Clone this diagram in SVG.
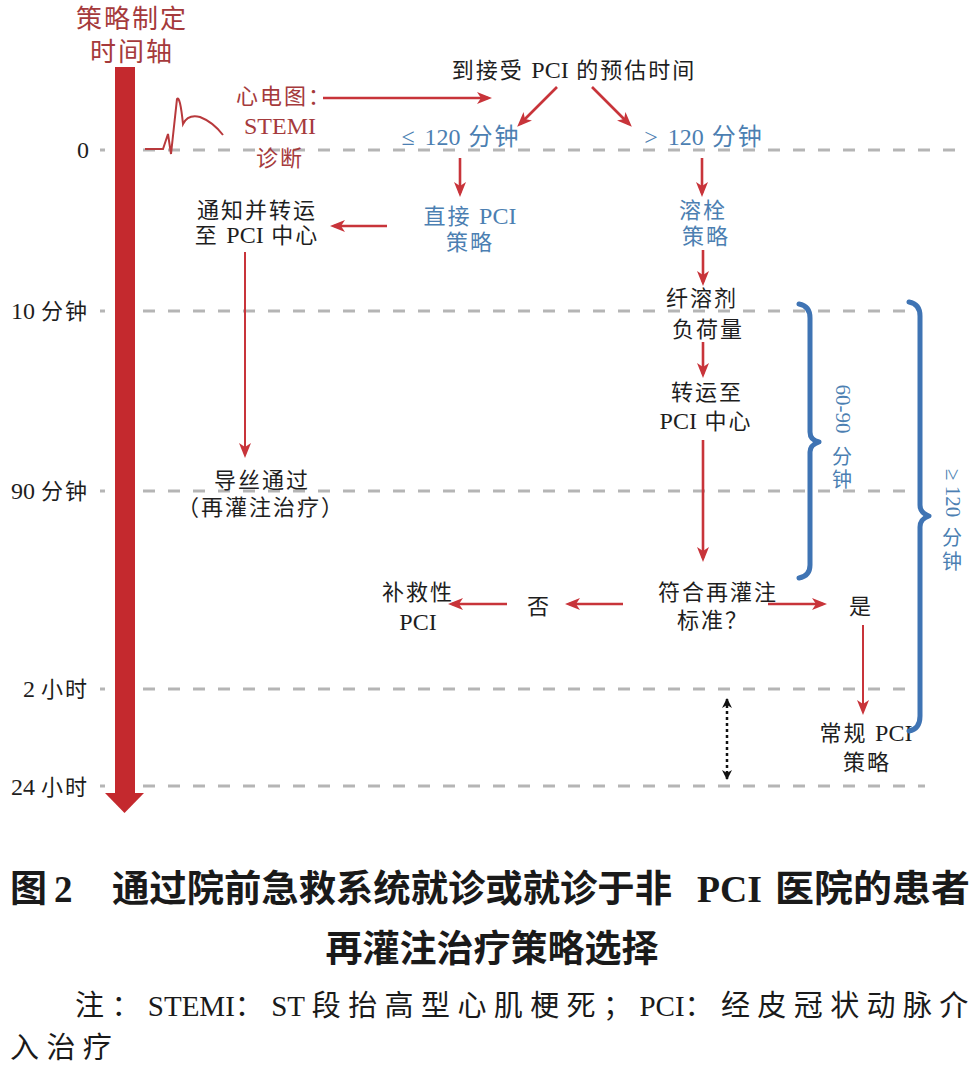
<svg xmlns="http://www.w3.org/2000/svg" width="976" height="1068" viewBox="0 0 976 1068">
<style>
text{font-family:"Liberation Serif","Noto Sans CJK SC",serif;}
.t{font-size:22px;fill:#1e1e1e;letter-spacing:2px;}
.r{font-size:22px;fill:#a53a3c;letter-spacing:2px;}
.b{font-size:22px;fill:#4c7fb2;letter-spacing:2px;}
.l{letter-spacing:0;}
.L{letter-spacing:0;font-size:24px;}
.m{text-anchor:middle;}
.e{text-anchor:end;}
.dash{stroke:#b5b5b5;stroke-width:3;stroke-dasharray:12 13;stroke-dashoffset:7;fill:none;}
.arr{stroke:#c8343a;stroke-width:2.6;fill:none;marker-end:url(#ah);}
.thin{stroke:#c8343a;stroke-width:2;fill:none;marker-end:url(#ah);}
.brace{stroke:#3f74b4;stroke-width:5;fill:none;stroke-linecap:round;stroke-linejoin:round;}
.cap{font-family:"Noto Sans CJK SC","Liberation Serif",sans-serif;font-weight:bold;font-size:37px;fill:#1a1a1a;}
.capl{font-family:"Liberation Serif","Noto Sans CJK SC",serif;font-weight:bold;font-size:37px;fill:#1a1a1a;}
.note{font-size:29px;fill:#1a1a1a;letter-spacing:7.4px;}
</style>
<defs>
<marker id="ah" viewBox="0 0 15 12" refX="11" refY="6" markerWidth="15" markerHeight="12" markerUnits="userSpaceOnUse" orient="auto"><path d="M0,0 L15,6 L0,12 L4,6 z" fill="#c8343a"/></marker>
<marker id="ahk" viewBox="0 0 10 10" refX="9" refY="5" markerWidth="10" markerHeight="10" markerUnits="userSpaceOnUse" orient="auto-start-reverse"><path d="M0,0 L10,5 L0,10 L3,5 z" fill="#111"/></marker>
</defs>
<rect width="976" height="1068" fill="#ffffff"/>

<g id="gridlines">
<line class="dash" x1="100" y1="150" x2="962" y2="150"/>
<line class="dash" x1="100" y1="311" x2="908" y2="311"/>
<line class="dash" x1="100" y1="491" x2="908" y2="491"/>
<line class="dash" x1="100" y1="689" x2="908" y2="689"/>
<line class="dash" x1="100" y1="786" x2="925" y2="786"/>
</g>

<g id="time-labels">
<text class="t e" x="89" y="158"><tspan class="L">0</tspan></text>
<text class="t e" x="89" y="319"><tspan class="L">10 </tspan>分钟</text>
<text class="t e" x="89" y="499"><tspan class="L">90 </tspan>分钟</text>
<text class="t e" x="89" y="697"><tspan class="L">2 </tspan>小时</text>
<text class="t e" x="89" y="795"><tspan class="L">24 </tspan>小时</text>
</g>

<g id="axis">
<rect x="115" y="67" width="20" height="727" fill="#c4292e"/>
<polygon points="105,793 144,793 124.5,813" fill="#c4292e"/>
<text class="r m" x="132" y="28" style="font-size:26px">策略制定</text>
<text class="r m" x="132" y="61" style="font-size:26px">时间轴</text>
</g>

<g id="ecg">
<path d="M145,149 L163,149 L168,134 L171,154 L177,99 Q180,95 183,124 Q188,114 200,117 Q213,122 223,135" fill="none" stroke="#b8393c" stroke-width="2"/>
<text class="r" x="236" y="104">心电图：</text>
<text class="r m l" x="280" y="134" style="font-size:24px">STEMI</text>
<text class="r m" x="280" y="166">诊断</text>
</g>

<g id="node-estimate"><text class="t m" x="574" y="78">到接受 <tspan class="L">PCI</tspan> 的预估时间</text></g>
<g id="node-le120"><text class="b m" x="461" y="145" style="font-size:24px">≤ <tspan class="l">120</tspan> 分钟</text></g>
<g id="node-gt120"><text class="b m" x="704" y="145" style="font-size:24px">&gt; <tspan class="l">120</tspan> 分钟</text></g>
<g id="node-direct-pci">
<text class="b m" x="470" y="224">直接 <tspan class="L">PCI</tspan></text>
<text class="b m" x="470" y="250">策略</text>
</g>
<g id="node-lysis">
<text class="b m" x="703" y="218">溶栓</text>
<text class="b m" x="706" y="244">策略</text>
</g>
<g id="node-notify">
<text class="t m" x="257" y="218">通知并转运</text>
<text class="t m" x="257" y="243">至 <tspan class="L">PCI</tspan> 中心</text>
</g>
<g id="node-wire">
<text class="t m" x="262" y="488">导丝通过</text>
<text class="t m" x="261" y="515">（再灌注治疗）</text>
</g>
<g id="node-fibrinolytic">
<text class="t m" x="702" y="306">纤溶剂</text>
<text class="t m" x="708" y="337">负荷量</text>
</g>
<g id="node-transfer">
<text class="t m" x="707" y="400">转运至</text>
<text class="t m" x="706" y="429"><tspan class="L">PCI</tspan> 中心</text>
</g>
<g id="node-criteria">
<text class="t m" x="718" y="600">符合再灌注</text>
<text class="t m" x="713" y="628">标准？</text>
</g>
<g id="node-no"><text class="t m" x="539" y="614">否</text></g>
<g id="node-yes"><text class="t m" x="861" y="614">是</text></g>
<g id="node-rescue">
<text class="t m" x="418" y="600">补救性</text>
<text class="t m L" x="418" y="630">PCI</text>
</g>
<g id="node-routine">
<text class="t m" x="866" y="741">常规 <tspan class="L">PCI</tspan></text>
<text class="t m" x="867" y="770">策略</text>
</g>

<g id="braces">
<path class="brace" d="M799,304 Q810,306 810,318 L810,432 Q810,440 819,442 Q810,445 810,452 L810,565 Q810,576 799,578"/>
<path class="brace" d="M909,302 Q920,304 920,316 L920,505 Q920,513 929,516 Q920,519 920,527 L920,716 Q920,729 909,731"/>
<text class="b m l" transform="translate(843,409) rotate(90)" dominant-baseline="central" style="font-size:21px">60-90</text>
<text class="b m" x="843" y="464" style="font-size:20px">分</text>
<text class="b m" x="843" y="487" style="font-size:20px">钟</text>
<text class="b m l" transform="translate(953,493) rotate(90)" dominant-baseline="central" style="font-size:21px">≥ 120</text>
<text class="b m" x="953" y="545" style="font-size:20px">分</text>
<text class="b m" x="953" y="569" style="font-size:20px">钟</text>
</g>

<g id="connectors">
<line class="arr" x1="323" y1="98" x2="488" y2="98"/>
<line class="arr" x1="557" y1="87" x2="520" y2="124"/>
<line class="arr" x1="592" y1="87" x2="629" y2="124"/>
<line class="arr" x1="460" y1="158" x2="460" y2="193"/>
<line class="arr" x1="702" y1="158" x2="702" y2="193"/>
<line class="arr" x1="387" y1="226" x2="334" y2="226"/>
<line class="thin" x1="245" y1="252" x2="245" y2="454"/>
<line class="arr" x1="703" y1="250" x2="703" y2="282"/>
<line class="arr" x1="703" y1="342" x2="703" y2="374"/>
<line class="arr" x1="703" y1="440" x2="703" y2="558"/>
<line class="arr" x1="623" y1="604" x2="569" y2="604"/>
<line class="arr" x1="507" y1="604" x2="452" y2="604"/>
<line class="arr" x1="768" y1="604" x2="823" y2="604"/>
<line class="thin" x1="863" y1="625" x2="863" y2="711"/>
<line x1="727" y1="699" x2="727" y2="779" stroke="#111" stroke-width="2.5" stroke-dasharray="3 3" marker-start="url(#ahk)" marker-end="url(#ahk)"/>
</g>

<g id="caption">
<text class="cap" x="10" y="902">图</text>
<text class="capl" x="54" y="902">2</text>
<text class="cap" x="112" y="902" textLength="560" lengthAdjust="spacingAndGlyphs">通过院前急救系统就诊或就诊于非</text>
<text class="capl" x="697" y="902" textLength="65" lengthAdjust="spacingAndGlyphs">PCI</text>
<text class="cap" x="775" y="902" textLength="195" lengthAdjust="spacingAndGlyphs">医院的患者</text>
<text class="cap m" x="492" y="962">再灌注治疗策略选择</text>
<text class="note" x="75" y="1016">注：<tspan class="l">STEMI</tspan>：<tspan class="l">ST </tspan>段抬高型心肌梗死；<tspan class="l">PCI</tspan>：经皮冠状动脉介</text>
<text class="note" x="10" y="1058">入治疗</text>
</g>
</svg>
